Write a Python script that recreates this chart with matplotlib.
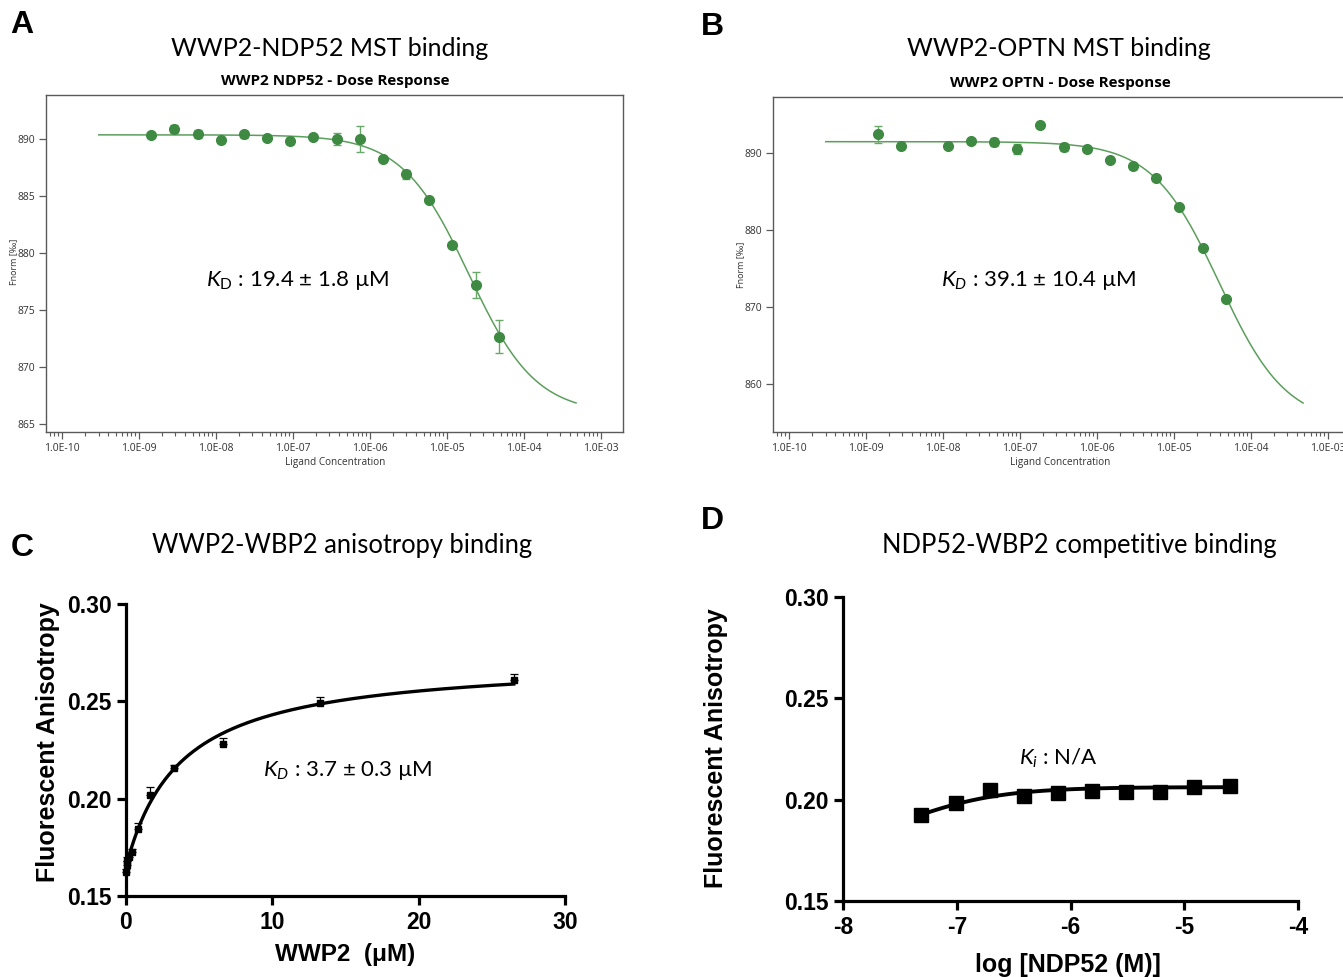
import numpy as np
import matplotlib
matplotlib.use("Agg")
import matplotlib.pyplot as plt
from matplotlib.ticker import LogLocator, FixedLocator, NullFormatter

plt.rcParams['mathtext.fontset'] = 'custom'
plt.rcParams['mathtext.rm'] = 'Lato'
plt.rcParams['mathtext.it'] = 'Lato:italic'

# ---------------- Data ----------------
# Panel A: WWP2-NDP52 MST
conc_A = [1.45e-9, 2.9e-9, 5.8e-9, 1.16e-8, 2.32e-8, 4.64e-8, 9.28e-8, 1.855e-7,
          3.71e-7, 7.42e-7, 1.484e-6, 2.97e-6, 5.94e-6, 1.1875e-5, 2.375e-5, 4.75e-5]
fnorm_A = [890.41, 890.94, 890.50, 889.94, 890.44, 890.15, 889.85, 890.18,
           890.03, 890.03, 888.30, 886.92, 884.69, 880.70, 877.24, 872.66]
err_A = [0.15, 0.35, 0.35, 0.15, 0.30, 0.15, 0.25, 0.15,
         0.55, 1.15, 0.15, 0.40, 0.15, 0.15, 1.15, 1.45]
fit_A = dict(unbound=890.4, bound=865.9, kd=19.4e-6)

# Panel B: WWP2-OPTN MST
conc_B = [1.45e-9, 2.9e-9, 1.16e-8, 2.32e-8, 4.64e-8, 9.28e-8, 1.855e-7,
          3.71e-7, 7.42e-7, 1.484e-6, 2.97e-6, 5.94e-6, 1.1875e-5, 2.375e-5, 4.75e-5]
fnorm_B = [892.46, 890.95, 890.99, 891.55, 891.50, 890.56, 893.60,
           890.82, 890.60, 889.14, 888.30, 886.76, 883.05, 877.70, 871.05]
err_B = [1.1, 0.2, 0.2, 0.2, 0.5, 0.6, 0.2, 0.5, 0.2, 0.2, 0.4, 0.2, 0.2, 0.2, 0.2]
fit_B = dict(unbound=891.5, bound=854.8, kd=39.1e-6)

mst_xticks = [1e-10, 1e-9, 1e-8, 1e-7, 1e-6, 1e-5, 1e-4, 1e-3]
mst_xticklabels = ['1.0E-10', '1.0E-09', '1.0E-08', '1.0E-07', '1.0E-06', '1.0E-05', '1.0E-04', '1.0E-03']

# Panel C: WWP2-WBP2 anisotropy
wwp2_C = [0.0, 0.05, 0.10, 0.21, 0.41, 0.83, 1.65, 3.3, 6.6, 13.25, 26.5]
aniso_C = [0.1625, 0.1660, 0.1680, 0.1700, 0.1725, 0.1845, 0.2020, 0.2155, 0.2280, 0.2490, 0.2610]
errC = [0.0015, 0.002, 0.002, 0.002, 0.0015, 0.003, 0.004, 0.002, 0.003, 0.003, 0.003]
fit_C = dict(a0=0.165, bmax=0.107, kd=3.7)

# Panel D: NDP52-WBP2 competition
logndp_D = [-7.31, -7.01, -6.71, -6.41, -6.11, -5.81, -5.51, -5.21, -4.91, -4.60]
aniso_D = [0.1926, 0.1982, 0.2046, 0.2020, 0.2033, 0.2043, 0.2040, 0.2040, 0.2062, 0.2069]
errD = [0.001, 0.003, 0.001, 0.001, 0.001, 0.001, 0.001, 0.001, 0.001, 0.001]
fit_D = dict(bottom=0.1716, top=0.2062, logec50=-7.5)

# ---------------- Figure ----------------
W, H = 1343, 977
fig = plt.figure(figsize=(W / 100, H / 100), dpi=100)

def fx(px):
    return px / W

def fy(py):
    return 1 - py / H

green = '#3e8a43'
green_line = '#5c9e5c'
green_err = '#6aa86a'
box_col = '#5a5a5a'
tick_txt = '#333333'

def mst_panel(rect, conc, vals, errs, fit, yticks, ylim):
    ax = fig.add_axes(rect)
    ax.set_xscale('log')
    ax.set_xlim(10 ** -10.205, 10 ** -2.71)
    ax.set_ylim(*ylim)
    xs = np.logspace(-9.52, -3.32, 400)
    ys = fit['unbound'] + (fit['bound'] - fit['unbound']) * xs / (xs + fit['kd'])
    ax.plot(xs, ys, color=green_line, lw=1.1, zorder=2)
    ax.errorbar(conc, vals, yerr=errs, fmt='none', ecolor=green_err, elinewidth=1.0,
                capsize=3.2, capthick=1.0, zorder=3)
    ax.plot(conc, vals, 'o', color=green, ms=7, mec=green, zorder=4)
    for s in ax.spines.values():
        s.set_color(box_col)
        s.set_linewidth(1.0)
    ax.xaxis.set_major_locator(FixedLocator(mst_xticks))
    ax.set_xticklabels(mst_xticklabels)
    ax.xaxis.set_minor_locator(LogLocator(base=10, subs=np.arange(2, 10), numticks=20))
    ax.xaxis.set_minor_formatter(NullFormatter())
    ax.set_yticks(yticks)
    ax.set_yticklabels([str(v) for v in yticks])
    ax.tick_params(axis='both', which='major', direction='out', length=5, width=0.9,
                   color=box_col, labelsize=7.5, labelcolor=tick_txt, pad=3)
    ax.tick_params(axis='x', which='minor', direction='out', length=3, width=0.8, color=box_col)
    for lab in ax.get_xticklabels() + ax.get_yticklabels():
        lab.set_fontfamily('Open Sans')
    return ax

axA = mst_panel([fx(46), fy(432), fx(623) - fx(46), fy(95) - fy(432)],
                conc_A, fnorm_A, err_A, fit_A, [865, 870, 875, 880, 885, 890], (864.3, 893.9))
axB = mst_panel([fx(773), fy(432), fx(623) - fx(46), fy(97) - fy(432)],
                conc_B, fnorm_B, err_B, fit_B, [860, 870, 880, 890], (853.8, 897.3))

# MST texts
fig.text(fx(330), fy(48), 'WWP2-NDP52 MST binding', family='Lato', fontsize=18, ha='center', va='center')
fig.text(fx(335), fy(81), 'WWP2 NDP52 - Dose Response', family='Open Sans', weight='bold', fontsize=11,
         ha='center', va='center')
fig.text(fx(1059), fy(48), 'WWP2-OPTN MST binding', family='Lato', fontsize=18, ha='center', va='center')
fig.text(fx(1060), fy(83), 'WWP2 OPTN - Dose Response', family='Open Sans', weight='bold', fontsize=11,
         ha='center', va='center')
for xc in (335, 1060):
    fig.text(fx(xc), fy(463), 'Ligand Concentration', family='Open Sans', fontsize=7.2,
             color=tick_txt, ha='center', va='center')
fig.text(fx(14), fy(262), 'Fnorm [‰]', family='Open Sans', fontsize=6.5, color=tick_txt,
         rotation=90, ha='center', va='center')
fig.text(fx(741), fy(265), 'Fnorm [‰]', family='Open Sans', fontsize=6.5, color=tick_txt,
         rotation=90, ha='center', va='center')
fig.text(fx(298), fy(280), r'$\mathit{K}_{\mathrm{D}}$ : 19.4 ± 1.8 µM', family='Lato', fontsize=16,
         ha='center', va='center')
fig.text(fx(1039), fy(280), r'$\mathit{K}_{\mathit{D}}$ : 39.1 ± 10.4 µM', family='Lato', fontsize=16,
         ha='center', va='center')

# ---------------- GraphPad panels ----------------
def prism_axes(rect):
    ax = fig.add_axes(rect)
    for s in ('top', 'right'):
        ax.spines[s].set_visible(False)
    for s in ('left', 'bottom'):
        ax.spines[s].set_linewidth(2.3)
        ax.spines[s].set_color('black')
    ax.tick_params(axis='both', direction='out', length=6.5, width=2.3, labelsize=16.5, pad=4)
    return ax

def bold_ticks(ax):
    for lab in ax.get_xticklabels() + ax.get_yticklabels():
        lab.set_fontfamily('Liberation Sans')
        lab.set_fontweight('bold')

axC = prism_axes([fx(126), fy(896), fx(565) - fx(126), fy(604) - fy(896)])
axC.set_xlim(0, 30)
axC.set_ylim(0.15, 0.30)
xc = np.linspace(0, 26.5, 300)
yc = fit_C['a0'] + fit_C['bmax'] * xc / (fit_C['kd'] + xc)
axC.plot(xc, yc, color='black', lw=2.4, zorder=3, clip_on=False)
axC.errorbar(wwp2_C, aniso_C, yerr=[np.zeros(len(errC)), errC], fmt='none', ecolor='black',
             elinewidth=0.9, capsize=3, capthick=0.9, zorder=2, clip_on=False)
axC.plot(wwp2_C, aniso_C, 's', color='black', ms=4.5, zorder=4, clip_on=False)
axC.set_xticks([0, 10, 20, 30])
axC.set_xticklabels(['0', '10', '20', '30'])
axC.set_yticks([0.15, 0.20, 0.25, 0.30])
axC.set_yticklabels(['0.15', '0.20', '0.25', '0.30'])
bold_ticks(axC)

axD = prism_axes([fx(843), fy(901), fx(1298) - fx(843), fy(597) - fy(901)])
axD.set_xlim(-8, -4)
axD.set_ylim(0.15, 0.30)
xd = np.linspace(-7.31, -4.60, 300)
yd = fit_D['bottom'] + (fit_D['top'] - fit_D['bottom']) / (1 + 10 ** (fit_D['logec50'] - xd))
axD.plot(xd, yd, color='black', lw=2.8, zorder=3)
axD.errorbar(logndp_D, aniso_D, yerr=[np.zeros(len(errD)), errD], fmt='none', ecolor='black',
             elinewidth=1.2, capsize=5, capthick=1.2, zorder=2)
axD.plot(logndp_D, aniso_D, 's', color='black', ms=9.5, zorder=4)
axD.set_xticks([-8, -7, -6, -5, -4])
axD.set_xticklabels(['-8', '-7', '-6', '-5', '-4'])
axD.set_yticks([0.15, 0.20, 0.25, 0.30])
axD.set_yticklabels(['0.15', '0.20', '0.25', '0.30'])
bold_ticks(axD)

fig.text(fx(342), fy(545), 'WWP2-WBP2 anisotropy binding', family='Lato', fontsize=18.4,
         ha='center', va='center')
fig.text(fx(1079), fy(545), 'NDP52-WBP2 competitive binding', family='Lato', fontsize=18.4,
         ha='center', va='center')
fig.text(fx(48), fy(742), 'Fluorescent Anisotropy', family='Liberation Sans', weight='bold',
         fontsize=18, rotation=90, ha='center', va='center')
fig.text(fx(716), fy(748), 'Fluorescent Anisotropy', family='Liberation Sans', weight='bold',
         fontsize=18, rotation=90, ha='center', va='center')
fig.text(fx(345), fy(955), 'WWP2  (μM)', family='Liberation Sans', weight='bold',
         fontsize=17.5, ha='center', va='center')
fig.text(fx(1068), fy(965), 'log [NDP52 (M)]', family='Liberation Sans', weight='bold',
         fontsize=18, ha='center', va='center')
fig.text(fx(348), fy(771), r'$\mathit{K}_{\mathit{D}}$ : 3.7 ± 0.3 µM', family='Lato', fontsize=16,
         ha='center', va='center')
fig.text(fx(1058), fy(758), r'$\mathit{K}_{\mathit{i}}$ : N/A', family='Lato', fontsize=16,
         ha='center', va='center')

# Panel letters
for lab, (px, py) in zip('ABCD', [(22, 25), (712, 27), (22, 548), (712, 521)]):
    fig.text(fx(px), fy(py), lab, family='Liberation Sans', weight='bold', fontsize=23,
             ha='center', va='center')

fig.savefig('out.png', dpi=100)
